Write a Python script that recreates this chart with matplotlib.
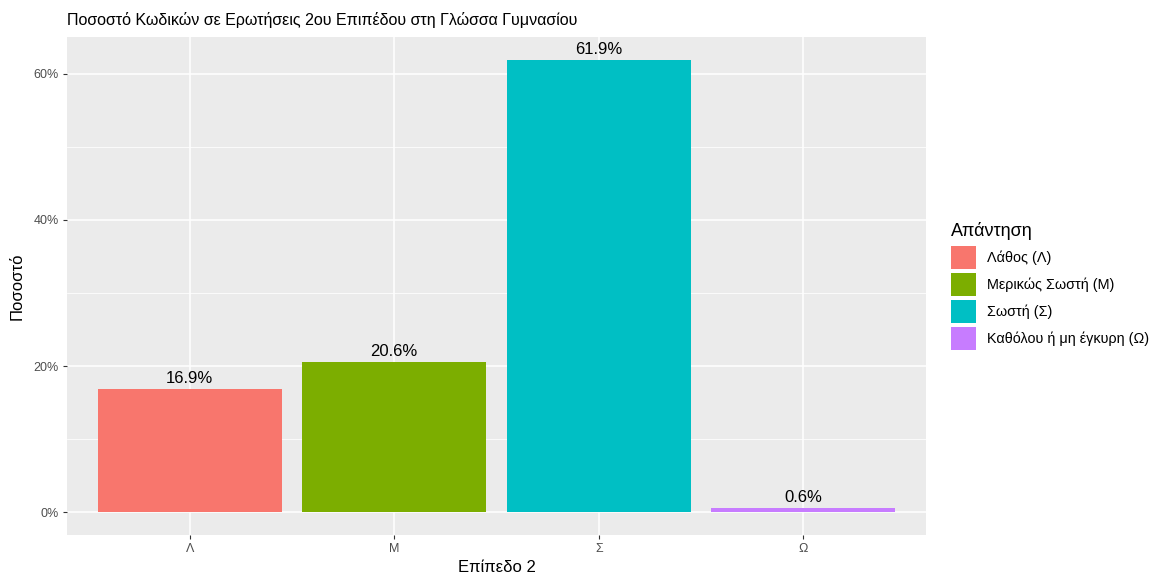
import matplotlib.pyplot as plt
from matplotlib.patches import Patch
from matplotlib.ticker import MultipleLocator, FuncFormatter

categories = ["Λ", "Μ", "Σ", "Ω"]
values = [16.9, 20.6, 61.9, 0.6]
legend_labels = ["Λάθος (Λ)", "Μερικώς Σωστή (Μ)", "Σωστή (Σ)", "Καθόλου ή μη έγκυρη (Ω)"]
colors = ["#F8766D", "#7CAE00", "#00BFC4", "#C77CFF"]

plt.rcParams['font.family'] = ['Liberation Sans', 'DejaVu Sans']

fig = plt.figure(figsize=(11.51, 5.74), dpi=100)
ax = fig.add_axes([67 / 1151, 1 - 535 / 574, (926 - 67) / 1151, (535 - 37) / 574])
ax.set_facecolor("#EBEBEB")

x = list(range(1, len(categories) + 1))
bars = ax.bar(x, values, width=0.9, color=colors, zorder=3)
for xi, v in zip(x, values):
    ax.text(xi, v + 0.4, f"{v:.1f}%", ha="center", va="bottom", fontsize=12, color="black", zorder=4)

ymax = max(values)
ax.set_xlim(0.4, len(categories) + 0.6)
ax.set_ylim(-0.05 * ymax, ymax * 1.05)
ax.set_xticks(x)
ax.set_xticklabels(categories)
ax.yaxis.set_major_locator(MultipleLocator(20))
ax.yaxis.set_minor_locator(MultipleLocator(10))
ax.yaxis.set_major_formatter(FuncFormatter(lambda v, p: f"{v:.0f}%"))

ax.grid(which="major", color="white", linewidth=1.1, zorder=0)
ax.grid(which="minor", axis="y", color="white", linewidth=0.55, zorder=0)
ax.xaxis.grid(True, which="major")
for s in ax.spines.values():
    s.set_visible(False)
ax.tick_params(axis="both", which="major", length=3, width=0.8, color="#333333",
               labelsize=9, labelcolor="#4D4D4D", pad=3)
ax.tick_params(axis="both", which="minor", length=0)

ax.set_xlabel("Επίπεδο 2", fontsize=12, labelpad=3)
ax.set_ylabel("Ποσοστό", fontsize=12, labelpad=6)
fig.text(67 / 1151, 1 - 20 / 574, "Ποσοστό Κωδικών σε Ερωτήσεις 2ου Επιπέδου στη Γλώσσα Γυμνασίου",
         fontsize=11.5, va="center", ha="left")

handles = [Patch(facecolor=c, edgecolor="none") for c in colors]
leg = fig.legend(handles, legend_labels, title="Απάντηση", loc="upper left",
                 bbox_to_anchor=(951 / 1151, 1 - 222 / 574), frameon=False,
                 fontsize=10.4, title_fontsize=13, handlelength=1.74, handleheight=2.1,
                 labelspacing=0.27, handletextpad=0.75, borderaxespad=0, borderpad=0)
leg._legend_box.align = "left"
leg._legend_box.sep = 4

fig.savefig("out.png", dpi=100)
